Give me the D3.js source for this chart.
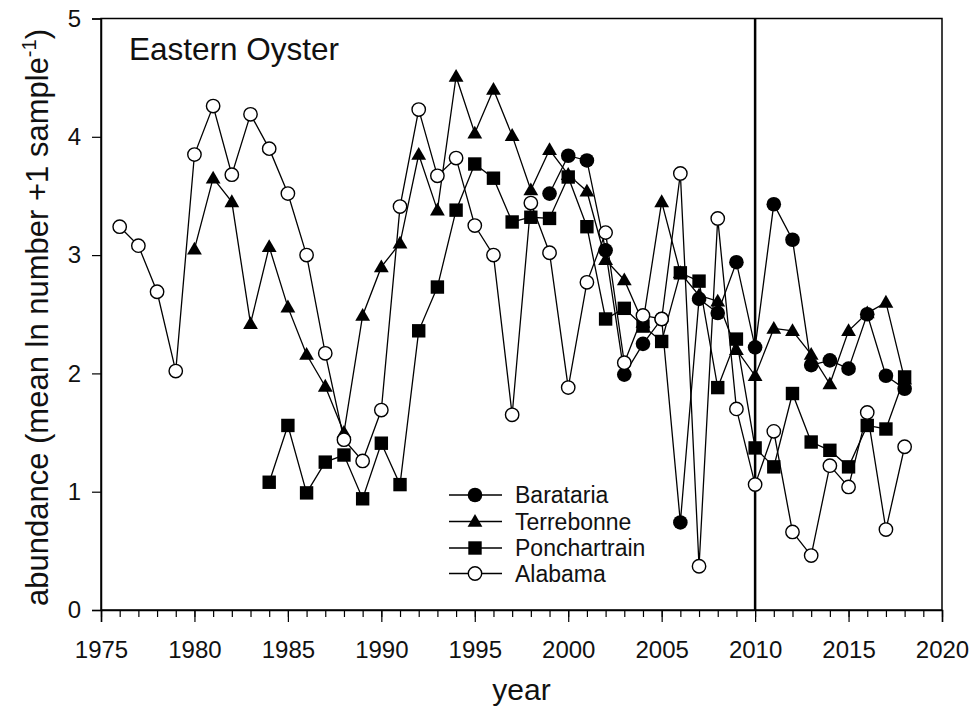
<!DOCTYPE html>
<html>
<head>
<meta charset="utf-8">
<script src="https://cdn.jsdelivr.net/npm/d3@7"></script>
<style>
  html, body { margin: 0; padding: 0; background: #fff; }
  svg { display: block; font-family: Arial, "Liberation Sans", sans-serif; }
</style>
</head>
<body>
<svg id="chart" width="973" height="711"></svg>
<script>
const baratariaYears = d3.range(1999, 2019);
const baratariaValues = [3.52, 3.84, 3.80, 3.04, 1.99, 2.25, 2.46, 0.74, 2.63, 2.51, 2.94, 2.22, 3.43, 3.13, 2.07, 2.11, 2.04, 2.50, 1.98, 1.87];

const terrebonneYears = d3.range(1980, 2019);
const terrebonneValues = [3.05, 3.65, 3.45, 2.42, 3.07, 2.56, 2.16, 1.89, 1.50, 2.49, 2.90, 3.10, 3.85, 3.38, 4.51, 4.03, 4.40, 4.01, 3.55, 3.89, 3.68, 3.54, 2.96, 2.79, 2.43, 3.45, 2.85, 2.66, 2.61, 2.20, 1.98, 2.38, 2.36, 2.16, 1.91, 2.36, 2.51, 2.60, 1.95];

const ponchartrainYears = d3.range(1984, 2019);
const ponchartrainValues = [1.08, 1.56, 0.99, 1.25, 1.31, 0.94, 1.41, 1.06, 2.36, 2.73, 3.38, 3.77, 3.65, 3.28, 3.32, 3.31, 3.66, 3.24, 2.46, 2.55, 2.40, 2.27, 2.85, 2.78, 1.88, 2.29, 1.37, 1.21, 1.83, 1.42, 1.35, 1.21, 1.56, 1.53, 1.97];

const alabamaYears = d3.range(1976, 2019);
const alabamaValues = [3.24, 3.08, 2.69, 2.02, 3.85, 4.26, 3.68, 4.19, 3.90, 3.52, 3.00, 2.17, 1.44, 1.26, 1.69, 3.41, 4.23, 3.67, 3.82, 3.25, 3.00, 1.65, 3.44, 3.02, 1.88, 2.77, 3.19, 2.09, 2.49, 2.46, 3.69, 0.37, 3.31, 1.70, 1.06, 1.51, 0.66, 0.46, 1.22, 1.04, 1.67, 0.68, 1.38];

const seriesNames = ["Barataria", "Terrebonne", "Ponchartrain", "Alabama"];
const seriesSymbols = ["circleFilled", "triangle", "square", "circleOpen"];
const xTickLabels = [1975, 1980, 1985, 1990, 1995, 2000, 2005, 2010, 2015, 2020];
const yTickLabels = [0, 1, 2, 3, 4, 5];
const dividerYear = 2010;
const chartTitle = "Eastern Oyster";

const series = [
  { name: seriesNames[0], sym: seriesSymbols[0], data: baratariaYears.map((y, i) => ({ x: y, v: baratariaValues[i] })) },
  { name: seriesNames[1], sym: seriesSymbols[1], data: terrebonneYears.map((y, i) => ({ x: y, v: terrebonneValues[i] })) },
  { name: seriesNames[2], sym: seriesSymbols[2], data: ponchartrainYears.map((y, i) => ({ x: y, v: ponchartrainValues[i] })) },
  { name: seriesNames[3], sym: seriesSymbols[3], data: alabamaYears.map((y, i) => ({ x: y, v: alabamaValues[i] })) }
];

const margin = { left: 101, right: 31, top: 18.5, bottom: 101 };
const W = 973, H = 711;
const svg = d3.select("#chart");
const FONT = "Arial, 'Liberation Sans', sans-serif";

const x = d3.scaleLinear().domain([1975, 2020]).range([margin.left, W - margin.right]);
const y = d3.scaleLinear().domain([0, 5]).range([H - margin.bottom, margin.top]);

// frame
svg.append("rect")
  .attr("x", x(1975)).attr("y", y(5))
  .attr("width", x(2020) - x(1975)).attr("height", y(0) - y(5))
  .attr("fill", "none").attr("stroke", "#000").attr("stroke-width", 1.5);

// x axis: minor yearly ticks, major every 5 years
const xMinor = d3.axisBottom(x).tickValues(d3.range(1975, 2021)).tickSize(7).tickFormat("");
svg.append("g").attr("transform", `translate(0,${y(0)})`).call(xMinor)
  .call(g => g.select(".domain").remove())
  .call(g => g.selectAll("line").attr("stroke", "#000").attr("stroke-width", 1.2));
const xMajor = d3.axisBottom(x).tickValues(xTickLabels).tickSize(12).tickPadding(19).tickFormat(d3.format("d"));
svg.append("g").attr("transform", `translate(0,${y(0)})`).call(xMajor)
  .call(g => g.select(".domain").attr("stroke", "#000").attr("stroke-width", 1.5))
  .call(g => g.selectAll("line").attr("stroke", "#000").attr("stroke-width", 1.2))
  .call(g => g.selectAll("text").attr("font-size", 24).attr("fill", "#111").attr("font-family", FONT));

// y axis
const yAxis = d3.axisLeft(y).tickValues(yTickLabels).tickSize(9).tickPadding(11).tickFormat(d3.format("d"));
svg.append("g").attr("transform", `translate(${x(1975)},0)`).call(yAxis)
  .call(g => g.select(".domain").attr("stroke", "#000").attr("stroke-width", 1.5))
  .call(g => g.selectAll("line").attr("stroke", "#000").attr("stroke-width", 1.2))
  .call(g => g.selectAll("text").attr("font-size", 24).attr("fill", "#111").attr("font-family", FONT));

// divider line at 2010
svg.append("line")
  .attr("x1", x(dividerYear)).attr("x2", x(dividerYear))
  .attr("y1", y(5)).attr("y2", y(0))
  .attr("stroke", "#000").attr("stroke-width", 2.5);

// symbols
function drawSymbol(g, sym, cx, cy) {
  if (sym === "circleFilled") {
    g.append("circle").attr("cx", cx).attr("cy", cy).attr("r", 7.3).attr("fill", "#000");
  } else if (sym === "circleOpen") {
    g.append("circle").attr("cx", cx).attr("cy", cy).attr("r", 6.7).attr("fill", "#fff").attr("stroke", "#000").attr("stroke-width", 1.4);
  } else if (sym === "square") {
    g.append("rect").attr("x", cx - 6.7).attr("y", cy - 6.7).attr("width", 13.4).attr("height", 13.4).attr("fill", "#000");
  } else if (sym === "triangle") {
    g.append("path").attr("d", d3.symbol().type(d3.symbolTriangle).size(95)())
      .attr("transform", `translate(${cx},${cy + 1})`).attr("fill", "#000");
  }
}

const line = d3.line().x(d => x(d.x)).y(d => y(d.v));
series.forEach(s => {
  const g = svg.append("g");
  g.append("path").datum(s.data).attr("d", line)
    .attr("fill", "none").attr("stroke", "#000").attr("stroke-width", 1.3);
  s.data.forEach(d => drawSymbol(g, s.sym, x(d.x), y(d.v)));
});

// title
svg.append("text").attr("x", 129).attr("y", 60).attr("font-size", 31.5).attr("fill", "#111").text(chartTitle);

// axis titles
svg.append("text").attr("x", (x(1975) + x(2020)) / 2).attr("y", 700)
  .attr("text-anchor", "middle").attr("font-size", 30).attr("fill", "#111").text("year");

const yl = svg.append("text")
  .attr("transform", `translate(48,606) rotate(-90)`)
  .attr("text-anchor", "start").attr("font-size", 31).attr("fill", "#111");
yl.append("tspan").text("abundance (mean ln number +1 sample");
yl.append("tspan").attr("font-size", 20).attr("dy", -12).text("-1");
yl.append("tspan").attr("dy", 12).text(")");

// legend
const legendRows = [495, 521.5, 548, 573.5];
series.forEach((s, i) => {
  const g = svg.append("g");
  g.append("line").attr("x1", 449).attr("x2", 502).attr("y1", legendRows[i]).attr("y2", legendRows[i])
    .attr("stroke", "#000").attr("stroke-width", 1.3);
  drawSymbol(g, s.sym, 475, legendRows[i]);
  g.append("text").attr("x", 515).attr("y", legendRows[i] + 8).attr("font-size", 23).attr("fill", "#111").text(s.name);
});
</script>
</body>
</html>
